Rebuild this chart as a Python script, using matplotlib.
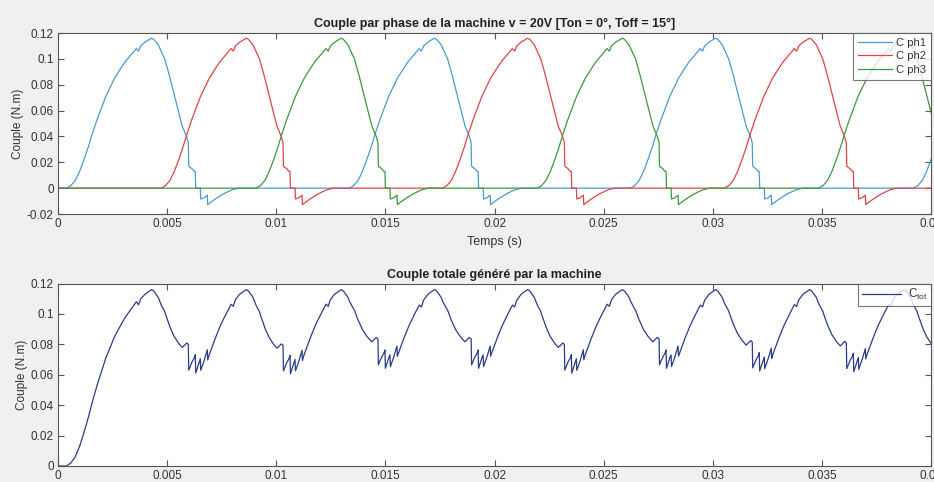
import numpy as np
import matplotlib
matplotlib.use('Agg')
import matplotlib.pyplot as plt

plt.rcParams['font.family'] = ['Liberation Sans', 'DejaVu Sans']

# Forme d'une impulsion de couple (temps relatif au debut de la montee, s ; couple N.m)
pulse_t = [0.0, 0.0002, 0.0004, 0.0006, 0.0008, 0.0010, 0.0012, 0.0014, 0.0016,
           0.0018, 0.0020, 0.0022, 0.0025, 0.0027, 0.0030, 0.0032, 0.0033, 0.0034,
           0.0036, 0.0039, 0.0040, 0.0042, 0.0045, 0.0047, 0.0050, 0.0053,
           0.0055, 0.00558, 0.00560, 0.00575, 0.00585, 0.00590, 0.00592,
           0.00613, 0.00615, 0.00630, 0.00645, 0.00647, 0.0066, 0.0068, 0.0070,
           0.0072, 0.0074, 0.0076, 0.0079]
pulse_c = [0.0, 0.002, 0.006, 0.013, 0.022, 0.032, 0.043, 0.053, 0.062,
           0.071, 0.078, 0.085, 0.093, 0.098, 0.104, 0.108, 0.106, 0.110,
           0.113, 0.116, 0.115, 0.111, 0.100, 0.088, 0.068, 0.048,
           0.040, 0.035, 0.017, 0.015, 0.013, 0.013, 0.0,
           0.0, -0.0084, -0.0075, -0.0054, -0.0128, -0.0110, -0.0086, -0.0064,
           -0.0044, -0.0027, -0.0012, 0.0]

# Debuts des impulsions (s)
starts_ph1 = [0.00039, 0.01335, 0.02623, 0.0392]
starts_ph2 = [0.00473, 0.01762, 0.03054]
starts_ph3 = [0.00908, 0.02196, 0.03486]

t_end = 0.04


def build_phase(starts):
    t = [0.0]
    c = [0.0]
    for s in starts:
        for dt, v in zip(pulse_t, pulse_c):
            t.append(s + dt)
            c.append(v)
    t.append(t_end + 0.01)
    c.append(0.0)
    return np.array(t), np.array(c)


t1, c1 = build_phase(starts_ph1)
t2, c2 = build_phase(starts_ph2)
t3, c3 = build_phase(starts_ph3)

# couple total = somme des trois phases sur l'union des points
t_all = np.unique(np.concatenate([t1, t2, t3]))
c_tot = np.interp(t_all, t1, c1) + np.interp(t_all, t2, c2) + np.interp(t_all, t3, c3)

x_ticks = [0, 0.005, 0.01, 0.015, 0.02, 0.025, 0.03, 0.035, 0.04]
x_labels = ['0', '0.005', '0.01', '0.015', '0.02', '0.025', '0.03', '0.035', '0.04']
y_ticks_top = [-0.02, 0, 0.02, 0.04, 0.06, 0.08, 0.1, 0.12]
y_ticks_bot = [0, 0.02, 0.04, 0.06, 0.08, 0.1, 0.12]

bg = '#f0f0f0'
edge = '#555555'
txt = '#333333'

fig = plt.figure(figsize=(9.34, 4.82), dpi=100, facecolor=bg)
ax1 = fig.add_axes([0.0621, 0.556, 0.9347, 0.3755])
ax2 = fig.add_axes([0.0621, 0.0332, 0.9347, 0.3786])


def style(ax, yticks):
    ax.set_xlim(0, t_end)
    ax.set_xticks(x_ticks)
    ax.set_xticklabels(x_labels)
    ax.set_yticks(yticks)
    ax.set_yticklabels(['%g' % v for v in yticks])
    ax.set_ylim(yticks[0], yticks[-1])
    ax.tick_params(direction='in', length=4, width=0.8, top=True, right=True,
                   labelsize=8.5, colors=edge, labelcolor=txt, pad=3)
    for sp in ax.spines.values():
        sp.set_color(edge)
        sp.set_linewidth(0.8)
    ax.set_ylabel('Couple (N.m)', fontsize=8.5, color=txt, labelpad=2)


ax1.plot(t1, c1, color='#4a9bcc', lw=0.9, label='C ph1')
ax1.plot(t2, c2, color='#e04444', lw=0.9, label='C ph2')
ax1.plot(t3, c3, color='#3c9a3c', lw=0.9, label='C ph3')
style(ax1, y_ticks_top)
ax1.set_xlabel('Temps (s)', fontsize=9, color=txt, labelpad=4)
ax1.set_title('Couple par phase de la machine v = 20V [Ton = 0°, Toff = 15°]',
              fontsize=9, fontweight='bold', color='#222222', pad=4)
leg1 = ax1.legend(loc='upper right', fontsize=8, frameon=True, fancybox=False,
                  borderaxespad=0, handlelength=3.0, labelspacing=0.3,
                  borderpad=0.45, handletextpad=0.4)
leg1.get_frame().set_edgecolor(edge)
leg1.get_frame().set_linewidth(0.8)
for t in leg1.get_texts():
    t.set_color(txt)

ax2.plot(t_all, c_tot, color='#2b3c8c', lw=0.9, label=r'$\mathregular{C_{tot}}$')
style(ax2, y_ticks_bot)
ax2.set_title('Couple totale généré par la machine', fontsize=9,
              fontweight='bold', color='#222222', pad=4)
leg2 = ax2.legend(loc='upper right', fontsize=8.5, frameon=True, fancybox=False,
                  borderaxespad=0, handlelength=3.3, borderpad=0.3,
                  handletextpad=0.6)
leg2.get_frame().set_edgecolor(edge)
leg2.get_frame().set_linewidth(0.8)
for t in leg2.get_texts():
    t.set_color(txt)

fig.savefig('out.png', dpi=100, facecolor=bg)
